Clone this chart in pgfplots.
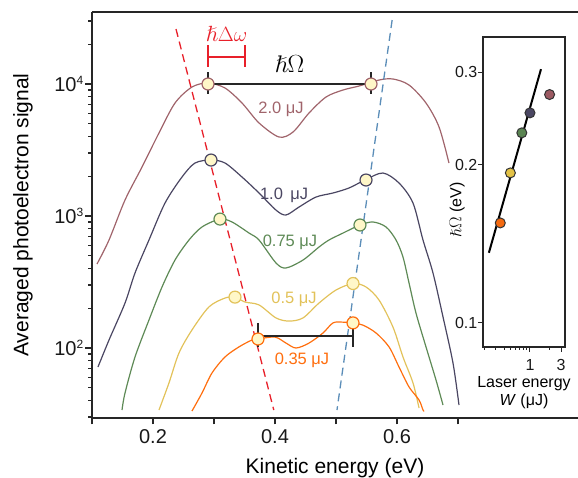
\documentclass[border=0pt]{standalone}
\usepackage{fontspec}
\setmainfont{Liberation Sans}
\usepackage{amssymb}
\usepackage{pgfplots}
\pgfplotsset{compat=1.18}

\definecolor{cMar}{HTML}{A0646B}
\definecolor{cNav}{HTML}{4A4662}
\definecolor{cGrn}{HTML}{5E8A56}
\definecolor{cYel}{HTML}{E2C25A}
\definecolor{cOra}{HTML}{FF6E0E}
\definecolor{cCream}{HTML}{FFF7C8}
\definecolor{cRed}{HTML}{E8202A}
\definecolor{cBlue}{HTML}{5B8DB8}
\definecolor{iMar}{HTML}{9C5A62}
\definecolor{iNav}{HTML}{4B4763}
\definecolor{iGrn}{HTML}{5A8452}
\definecolor{iYel}{HTML}{E3C246}
\definecolor{iOra}{HTML}{F46A10}

\newcommand\fs[1]{\fontsize{#1}{#1}\selectfont}
\newcommand\tsup[1]{\raisebox{6.5bp}{\fontsize{12bp}{12bp}\selectfont #1}}

\pgfplotsset{
  curve/.style={line width=1.2bp, smooth, tension=0.5},
  peak/.style={only marks, mark=*, mark size=6bp, mark options={draw=#1, fill=cCream, line width=1.2bp}},
  dot/.style={only marks, mark=*, mark size=5bp, mark options={draw=black!80, fill=#1, line width=1bp}},
}

\begin{document}
\begin{tikzpicture}
\begin{axis}[
  at={(0,0)}, anchor=south west,
  scale only axis, width=486bp, height=406bp,
  xmin=0.1, xmax=0.8967,
  ymode=log, ymin=29.5, ymax=35130,
  axis x line=box, axis y line=left,
  axis line style={-, line width=1.5bp, black!85},
  xtick pos=left, ytick pos=left,
  tick align=outside,
  major tick length=6.5bp, minor tick length=3.5bp,
  tick style={line width=1.2bp, black!85},
  xtick={0.1,0.2,0.3,0.4,0.5,0.6,0.7},
  xticklabels={,0.2,,0.4,,0.6,},
  ytick={100,1000,10000},
  yticklabels={10\tsup{2},10\tsup{3},10\tsup{4}},
  minor ytick={30,40,50,60,70,80,90,200,300,400,500,600,700,800,900,2000,3000,4000,5000,6000,7000,8000,9000,20000,30000},
  ticklabel style={font=\fs{20bp}, black!90},
  xticklabel style={yshift=-2bp},
  yticklabel style={inner xsep=2bp},
  xlabel={Kinetic energy (eV)},
  ylabel={Averaged photoelectron signal},
  every axis x label/.style={at={(rel axis cs:0.5,-0.0985)}, anchor=north, inner sep=0pt, font=\fs{21bp}},
  every axis y label/.style={at={(rel axis cs:-0.1214,0.5)}, rotate=90, anchor=south, inner sep=0pt, font=\fs{21bp}},
  clip=false,
]
% spectra
\addplot[curve, cMar] coordinates {(0.1082,433) (0.1279,658) (0.1541,1321) (0.182,2350) (0.2098,4256) (0.2361,7181) (0.2639,9490) (0.2902,10176) (0.318,9326) (0.3459,7181) (0.3738,5069) (0.4066,3966) (0.4295,4327) (0.4557,6027) (0.4836,7971) (0.5115,9006) (0.5377,9657) (0.5705,10720) (0.5934,10914) (0.6197,9827) (0.6475,7181) (0.6689,4723) (0.6852,2521)};
\addplot[curve, cNav] coordinates {(0.1098,71.8) (0.1279,115) (0.1541,219) (0.1705,370) (0.1934,658) (0.2197,1254) (0.2475,1974) (0.2689,2521) (0.2951,2655) (0.318,2521) (0.3459,1974) (0.3738,1494) (0.4016,1109) (0.418,1018) (0.4393,1169) (0.4672,1392) (0.4951,1494) (0.5213,1630) (0.5475,1874) (0.577,2117) (0.6033,1778) (0.6262,1254) (0.6426,658) (0.659,370) (0.6754,172) (0.6918,76.9) (0.7016,37.0)};
\addplot[curve, cGrn] coordinates {(0.1492,33.9) (0.1541,45.6) (0.1705,85.5) (0.1934,163) (0.2148,290) (0.2361,464) (0.259,658) (0.2803,826) (0.3098,948) (0.3295,901) (0.3574,743) (0.3738,658) (0.4016,441) (0.418,404) (0.4459,464) (0.4721,582) (0.4885,658) (0.5115,743) (0.5393,855) (0.5607,901) (0.582,826) (0.5984,658) (0.6098,489) (0.6197,311) (0.6311,184) (0.6475,102) (0.6639,57.3) (0.6754,37.0)};
\addplot[curve, cYel] coordinates {(0.2098,33.9) (0.2262,54.4) (0.2426,91.7) (0.2639,137) (0.2918,205) (0.318,239) (0.3344,243) (0.3508,223) (0.3738,212) (0.4016,169) (0.423,160) (0.4459,169) (0.4721,219) (0.5,275) (0.5279,308) (0.5492,290) (0.5705,231) (0.5934,144) (0.6098,85.5) (0.6262,54.4) (0.6361,35.1)};
\addplot[curve, cOra] coordinates {(0.2639,33.3) (0.2803,45.6) (0.2967,64.7) (0.318,85.5) (0.341,102) (0.3623,115) (0.3721,117) (0.4,121) (0.418,109) (0.4344,100) (0.4557,109) (0.4787,130) (0.4951,155) (0.5115,157) (0.5279,155) (0.5443,149) (0.5656,130) (0.5869,102) (0.6033,71.8) (0.6197,50.7) (0.6361,40.4) (0.6426,33.9) (0.6443,33.5)};
% guide lines
\addplot[cRed, line width=1.3bp, dash pattern=on 8bp off 5bp] coordinates {(0.2377,26100) (0.398,33.9)};
\addplot[cBlue, line width=1.3bp, dash pattern=on 8bp off 5bp] coordinates {(0.592,30500) (0.5016,33.9)};
% peak markers
\addplot[peak=cMar] coordinates {(0.2902,10000) (0.5574,10000)};
\addplot[peak=cNav] coordinates {(0.2951,2655) (0.5492,1874)};
\addplot[peak=cGrn] coordinates {(0.3098,948) (0.5393,855)};
\addplot[peak=cYel] coordinates {(0.3344,243) (0.5279,308)};
\addplot[peak=cOra] coordinates {(0.3721,117) (0.5279,155)};
% splitting bars
\addplot[black!85, line width=2bp] coordinates {(0.2902,10000) (0.5574,10000)};
\addplot[black!85, line width=1.4bp] coordinates {(0.2902,12330) (0.2902,8400)};
\addplot[black!85, line width=1.4bp] coordinates {(0.5574,12330) (0.5574,8400)};
\addplot[black!85, line width=2bp] coordinates {(0.3721,123) (0.5279,123)};
\addplot[black!85, line width=1.4bp] coordinates {(0.3721,155) (0.3721,102)};
\addplot[black!85, line width=1.4bp] coordinates {(0.5279,155) (0.5279,102)};
\addplot[cRed, line width=1.4bp] coordinates {(0.2902,16020) (0.3508,16020)};
\addplot[cRed, line width=1.4bp] coordinates {(0.2902,19750) (0.2902,13450)};
\addplot[cRed, line width=1.4bp] coordinates {(0.3508,19750) (0.3508,13450)};
% labels
\node[font=\fs{24bp}] at (axis cs:0.4238,14170) {$\hslash\Omega$};
\node[font=\fs{22bp}, cRed] at (axis cs:0.3205,24150) {$\hslash\Delta\omega$};
\node[font=\fs{16.5bp}, cMar] at (axis cs:0.4098,6474) {2.0 μJ};
\node[font=\fs{16.5bp}, cNav] at (axis cs:0.4148,1442) {1.0\, μJ};
\node[font=\fs{16.5bp}, cGrn] at (axis cs:0.4246,635) {0.75 μJ};
\node[font=\fs{16.5bp}, cYel] at (axis cs:0.4311,235) {0.5 μJ};
\node[font=\fs{16.5bp}, cOra] at (axis cs:0.4443,81) {0.35 μJ};
\end{axis}

\begin{axis}[
  at={(391bp,71bp)}, anchor=south west,
  scale only axis, width=82bp, height=310bp,
  xmode=log, ymode=log,
  xmin=0.19, xmax=3.45, ymin=0.09, ymax=0.35,
  axis background/.style={fill=white},
  axis line style={line width=1.4bp, black!85},
  tick pos=left, tick align=outside,
  major tick length=5bp, minor tick length=3bp,
  tick style={line width=1bp, black!85},
  xtick={1,3}, xticklabels={1,3},
  minor xtick={0.2,0.3,0.4,0.5,0.6,0.7,0.8,0.9,2},
  ytick={0.1,0.2,0.3}, yticklabels={0.1,0.2,0.3},
  minor ytick={},
  ticklabel style={font=\fs{16bp}, black!90},
  xticklabel style={yshift=-4bp},
  yticklabel style={inner xsep=0.5bp},
  clip=false,
]
\addplot[black, line width=2bp] coordinates {(0.234,0.136) (1.476,0.304)};
\addplot[dot=iOra] coordinates {(0.35,0.155)};
\addplot[dot=iYel] coordinates {(0.5,0.193)};
\addplot[dot=iGrn] coordinates {(0.75,0.230)};
\addplot[dot=iNav] coordinates {(1.0,0.251)};
\addplot[dot=iMar] coordinates {(2.0,0.272)};
\node[rotate=90, anchor=south, inner sep=0pt, font=\fs{16bp}] at (rel axis cs:-0.22,0.442) {$\hslash\Omega$ (eV)};
\node[align=center, anchor=north, inner sep=0pt, font=\fontsize{16bp}{18bp}\selectfont] at (rel axis cs:0.5,-0.0935) {Laser energy\\\textit{W} (μJ)};
\end{axis}
\pgfresetboundingbox
\path[use as bounding box] (-92bp,-60bp) rectangle (486bp,418bp);
\end{tikzpicture}
\end{document}
